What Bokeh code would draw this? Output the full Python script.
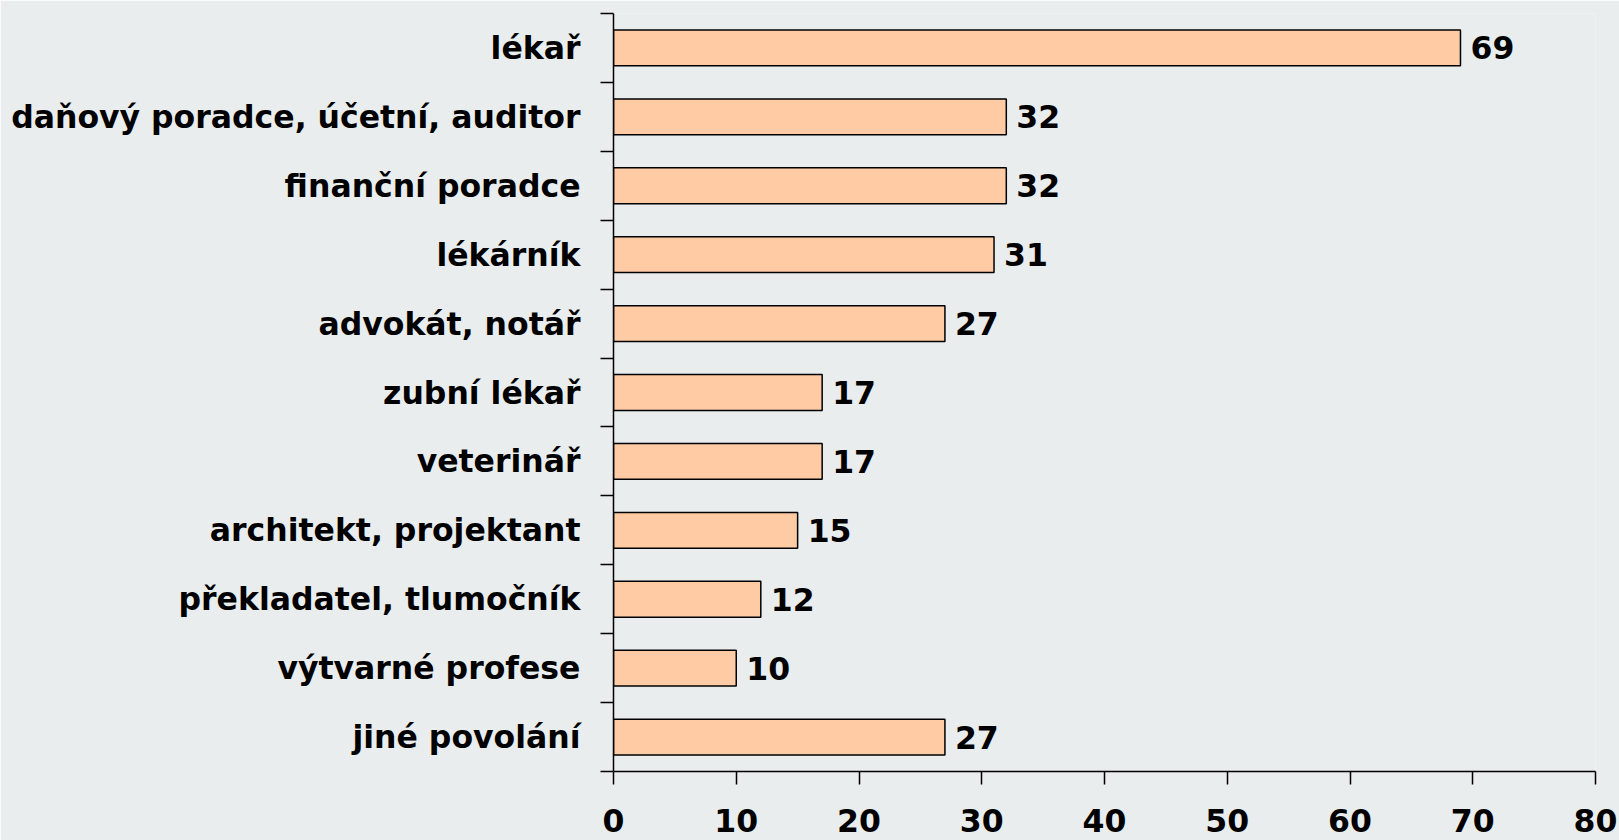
from bokeh.plotting import figure
from bokeh.models import Range1d, FixedTicker, ColumnDataSource, CustomJSTickFormatter
from bokeh.core.properties import value
from bokeh.embed import file_html
from bokeh.resources import INLINE

categories = ["lékař", "daňový poradce, účetní, auditor", "finanční poradce", "lékárník",
              "advokát, notář", "zubní lékař", "veterinář", "architekt, projektant",
              "překladatel, tlumočník", "výtvarné profese", "jiné povolání"]
values = [69, 32, 32, 31, 27, 17, 17, 15, 12, 10, 27]
x_ticks = [0, 10, 20, 30, 40, 50, 60, 70, 80]

BG = "#E9EDEE"
BAR = "#FFCBA4"
FONT = "DejaVu Sans"
FS = "31.5px"

n = len(categories)
ypos = [i + 0.5 for i in range(n)]
src = ColumnDataSource(dict(y=ypos, v=values, lab=[str(v) for v in values]))

p = figure(width=1619, height=840, output_backend="svg", toolbar_location=None,
           x_range=Range1d(0, 80), y_range=Range1d(n, 0),
           min_border_left=613, min_border_right=24, min_border_top=13, min_border_bottom=69)
p.background_fill_color = BG
p.border_fill_color = BG
p.outline_line_color = None
p.xgrid.visible = False
p.ygrid.visible = False

p.hbar(y="y", left=0, right="v", height=0.52, source=src,
       fill_color=BAR, line_color="black", line_width=1.5)
p.text(x="v", y="y", text="lab", source=src, x_offset=10, text_baseline="middle",
       text_align="left", text_font=value(FONT), text_font_style="bold",
       text_font_size=FS, text_color="black")

xa = p.xaxis[0]
xa.ticker = FixedTicker(ticks=x_ticks)
xa.major_tick_out = 13
xa.major_tick_in = 0
xa.minor_tick_out = 0
xa.minor_tick_in = 0
xa.axis_line_width = 1.5
xa.axis_line_color = "black"
xa.major_tick_line_width = 1.5
xa.major_tick_line_color = "black"
xa.major_label_text_font = FONT
xa.major_label_text_font_style = "bold"
xa.major_label_text_font_size = FS
xa.major_label_text_color = "black"
xa.major_label_standoff = 24

ya = p.yaxis[0]
ya.ticker = FixedTicker(ticks=ypos, minor_ticks=list(range(n + 1)))
ya.formatter = CustomJSTickFormatter(args=dict(cats=categories),
                                     code="return cats[Math.floor(tick)];")
ya.major_tick_out = 0
ya.major_tick_in = 0
ya.minor_tick_out = 13
ya.minor_tick_in = 0
ya.minor_tick_line_color = "black"
ya.minor_tick_line_width = 1.5
ya.axis_line_width = 1.5
ya.axis_line_color = "black"
ya.major_label_text_font = FONT
ya.major_label_text_font_style = "bold"
ya.major_label_text_font_size = FS
ya.major_label_text_color = "black"
ya.major_label_standoff = 20

open("out.html", "w").write(file_html(p, INLINE))
